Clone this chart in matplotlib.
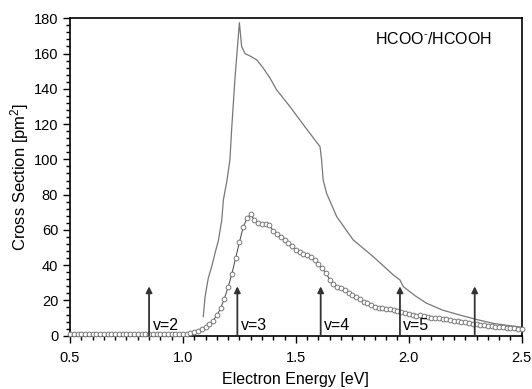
import numpy as np
import matplotlib
matplotlib.use("Agg")
import matplotlib.pyplot as plt
from matplotlib.ticker import MultipleLocator

plt.rcParams["font.family"] = ["Liberation Sans", "DejaVu Sans"]
plt.rcParams["mathtext.fontset"] = "custom"
plt.rcParams["mathtext.rm"] = "Liberation Sans"
plt.rcParams["mathtext.it"] = "Liberation Sans:italic"

# calculated cross section (thin solid line)
calc_energy = [1.090, 1.098, 1.112, 1.127, 1.142, 1.157, 1.172, 1.179, 1.195, 1.208,
               1.216, 1.231, 1.250, 1.260, 1.275, 1.297, 1.327, 1.356, 1.386, 1.415,
               1.474, 1.540, 1.607, 1.614, 1.621, 1.636, 1.681, 1.754, 1.843, 1.932,
               1.961, 1.976, 2.030, 2.079, 2.150, 2.227, 2.300, 2.374, 2.440, 2.500]
calc_xs = [10.8, 22.0, 32.5, 39.0, 46.7, 54.0, 65.6, 77.0, 88.0, 99.6,
           117.6, 146.9, 177.5, 164.0, 160.0, 158.6, 156.4, 151.7, 146.0, 139.4,
           129.9, 118.5, 107.2, 99.7, 88.3, 80.8, 67.5, 54.3, 44.8, 34.4,
           31.6, 27.8, 22.5, 18.4, 14.5, 11.7, 9.2, 7.0, 5.8, 4.8]

# convoluted cross section (open circles), grid 0.5 .. 2.5 eV
conv_energy = np.linspace(0.5, 2.5, 121)
conv_xs = [1.0] * 28 + [
    1.0, 1.0, 1.0, 1.1, 1.5, 2.0, 2.7, 3.7, 5.0, 6.5,
    8.5, 11.5, 15.5, 21.0, 27.5, 35.0, 44.0, 53.0, 61.5, 66.5,
    69.0, 65.5, 64.0, 63.6, 63.2, 62.5, 59.5, 57.5, 56.0, 54.5,
    52.8, 50.8, 48.5, 47.2, 46.5, 45.8, 44.8, 43.0, 40.8, 38.2,
    35.5, 31.8, 29.5, 27.8, 26.8, 25.8, 24.5, 23.2, 22.0, 20.7,
    19.3, 18.6, 17.5, 16.5, 15.9, 15.5, 15.2, 14.9, 14.6, 14.0,
    13.2, 12.8, 12.5, 11.5, 11.2, 11.5, 11.0, 10.5, 10.2, 10.3,
    10.0, 9.6, 9.3, 9.0, 8.6, 8.2, 7.9, 7.6, 7.2, 6.9,
    6.6, 6.3, 6.0, 5.7, 5.4, 5.1, 4.9, 4.7, 4.5, 4.3,
    4.1, 3.9, 3.7]

# vibrational thresholds
arrow_pos = [0.85, 1.241, 1.61, 1.961, 2.292]
arrow_labels = ["v=2", "v=3", "v=4", "v=5", ""]

fig = plt.figure(figsize=(5.32, 3.89), dpi=100)
ax = fig.add_axes([0.1316, 0.137, 0.849, 0.816])

ax.plot(calc_energy, calc_xs, color="#777777", lw=0.9)
ax.plot(conv_energy, conv_xs, color="#444444", lw=0.7, marker="o", ms=3.4,
        mfc="white", mec="#777777", mew=0.7, clip_on=False, zorder=3)

for x, lab in zip(arrow_pos, arrow_labels):
    ax.annotate("", xy=(x, 28), xytext=(x, 0),
                arrowprops=dict(arrowstyle="-|>", color="#333333", lw=1.3,
                                mutation_scale=9, shrinkA=0, shrinkB=0))
    if lab:
        ax.text(x + 0.015, 1.5, lab, fontsize=11.5, ha="left", va="bottom")

ax.text(1.85, 168, r"HCOO$^{\text{-}}$/HCOOH", fontsize=11.5, ha="left", va="center")

ax.set_xlim(0.5, 2.5)
ax.set_ylim(0, 180)
ax.xaxis.set_major_locator(MultipleLocator(0.5))
ax.xaxis.set_minor_locator(MultipleLocator(0.05))
ax.yaxis.set_major_locator(MultipleLocator(20))
ax.yaxis.set_minor_locator(MultipleLocator(4))
ax.xaxis.set_major_formatter(plt.FormatStrFormatter("%.1f"))
ax.tick_params(which="both", direction="out", top=False, right=False,
               labelsize=10.5, width=1.0)
ax.tick_params(which="major", length=5)
ax.tick_params(which="minor", length=3)
ax.tick_params(axis="x", pad=6)
for s in ax.spines.values():
    s.set_linewidth(1.2)

ax.set_xlabel("Electron Energy [eV]", fontsize=11.5, labelpad=5)
ax.set_ylabel(r"Cross Section [pm$^{\mathrm{2}}$]", fontsize=12, labelpad=2)

fig.savefig("out.png", dpi=100)
